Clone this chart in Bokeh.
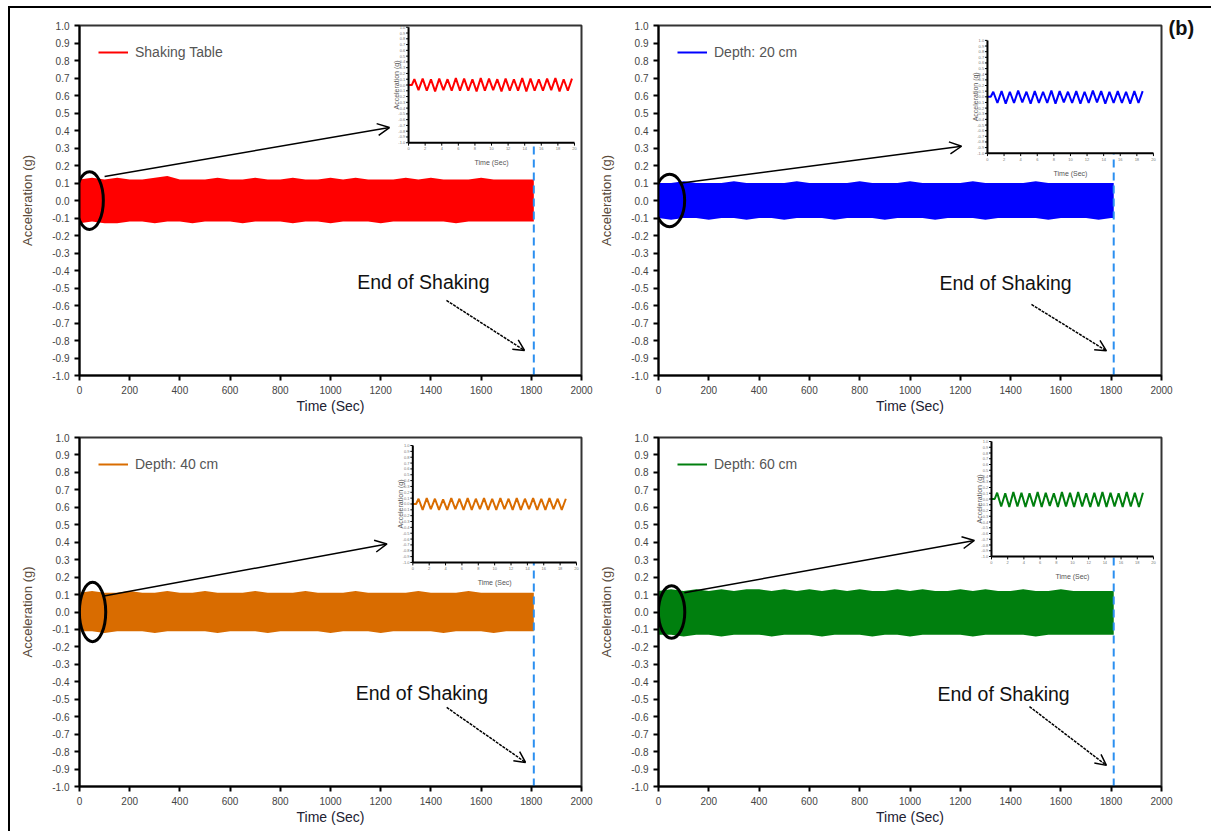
from bokeh.plotting import figure
from bokeh.models import (Range1d, Legend, LegendItem, Arrow, OpenHead, Label,
                          FixedTicker, NumeralTickFormatter, LinearAxis)
from bokeh.layouts import gridplot
from bokeh.embed import file_html
from bokeh.resources import INLINE
from bokeh.core.properties import value

FONT = "Liberation Sans"

# ---------------- data ----------------
series_names = ["Shaking Table", "Depth: 20 cm", "Depth: 40 cm", "Depth: 60 cm"]
series_colors = ["#FF0000", "#0000FF", "#D96C00", "#007F0E"]
panel_tag = "(b)"

# envelope of the dense acceleration record
env_time = [0, 50, 100, 150, 200, 250, 300, 350, 400, 450, 500, 550, 600, 650,
            700, 750, 800, 850, 900, 950, 1000, 1050, 1100, 1150, 1200, 1250,
            1300, 1350, 1400, 1450, 1500, 1550, 1600, 1650, 1700, 1750, 1800, 1810]

upper_table = [0.12, 0.13, 0.12, 0.13, 0.12, 0.12, 0.13, 0.14, 0.12, 0.12,
               0.12, 0.13, 0.12, 0.12, 0.13, 0.12, 0.12, 0.13, 0.12, 0.12,
               0.13, 0.12, 0.13, 0.12, 0.12, 0.12, 0.13, 0.12, 0.13, 0.12,
               0.12, 0.12, 0.13, 0.12, 0.12, 0.12, 0.12, 0.12]
lower_table = [-0.13, -0.12, -0.13, -0.13, -0.12, -0.12, -0.13, -0.12, -0.12, -0.13,
               -0.12, -0.12, -0.12, -0.13, -0.12, -0.12, -0.12, -0.13, -0.12, -0.12,
               -0.13, -0.12, -0.12, -0.12, -0.13, -0.12, -0.12, -0.12, -0.12, -0.12,
               -0.13, -0.12, -0.12, -0.12, -0.12, -0.12, -0.12, -0.12]

upper_20cm = [0.10, 0.10, 0.11, 0.10, 0.10, 0.10, 0.11, 0.10, 0.10, 0.10,
              0.10, 0.11, 0.10, 0.10, 0.10, 0.10, 0.11, 0.10, 0.10, 0.10,
              0.11, 0.10, 0.10, 0.10, 0.10, 0.11, 0.10, 0.10, 0.10, 0.10,
              0.11, 0.10, 0.10, 0.10, 0.10, 0.10, 0.10, 0.10]
lower_20cm = [-0.10, -0.11, -0.10, -0.10, -0.11, -0.10, -0.10, -0.11, -0.10, -0.10,
              -0.11, -0.10, -0.10, -0.10, -0.11, -0.10, -0.10, -0.10, -0.11, -0.10,
              -0.10, -0.10, -0.11, -0.10, -0.10, -0.10, -0.11, -0.10, -0.10, -0.10,
              -0.10, -0.11, -0.10, -0.10, -0.10, -0.11, -0.10, -0.10]

upper_40cm = [0.11, 0.12, 0.11, 0.11, 0.12, 0.11, 0.11, 0.12, 0.11, 0.11,
              0.12, 0.11, 0.11, 0.11, 0.12, 0.11, 0.11, 0.11, 0.12, 0.11,
              0.11, 0.11, 0.12, 0.11, 0.11, 0.11, 0.11, 0.12, 0.11, 0.11,
              0.11, 0.12, 0.11, 0.11, 0.11, 0.11, 0.11, 0.11]
lower_40cm = [-0.11, -0.11, -0.12, -0.11, -0.11, -0.11, -0.12, -0.11, -0.11, -0.11,
              -0.11, -0.12, -0.11, -0.11, -0.11, -0.12, -0.11, -0.11, -0.11, -0.11,
              -0.12, -0.11, -0.11, -0.11, -0.12, -0.11, -0.11, -0.11, -0.11, -0.12,
              -0.11, -0.11, -0.11, -0.12, -0.11, -0.11, -0.11, -0.11]

upper_60cm = [0.12, 0.13, 0.12, 0.13, 0.12, 0.13, 0.12, 0.13, 0.13, 0.12,
              0.13, 0.12, 0.13, 0.12, 0.13, 0.12, 0.13, 0.12, 0.12, 0.13,
              0.12, 0.13, 0.12, 0.12, 0.13, 0.12, 0.13, 0.12, 0.12, 0.13,
              0.12, 0.12, 0.13, 0.12, 0.12, 0.12, 0.12, 0.12]
lower_60cm = [-0.13, -0.13, -0.14, -0.13, -0.13, -0.14, -0.13, -0.13, -0.13, -0.14,
              -0.13, -0.13, -0.13, -0.14, -0.13, -0.13, -0.13, -0.14, -0.13, -0.13,
              -0.14, -0.13, -0.13, -0.13, -0.13, -0.14, -0.13, -0.13, -0.13, -0.13,
              -0.14, -0.13, -0.13, -0.13, -0.13, -0.13, -0.13, -0.13]

# zoomed inset record (first ~20 s)
inset_time = [0, 0.4, 0.7, 1.2, 1.7, 2.2, 2.7, 3.2, 3.7, 4.2, 4.7, 5.2, 5.7, 6.2,
              6.7, 7.2, 7.7, 8.2, 8.7, 9.2, 9.7, 10.2, 10.7, 11.2, 11.7, 12.2,
              12.7, 13.2, 13.7, 14.2, 14.7, 15.2, 15.7, 16.2, 16.7, 17.2, 17.7,
              18.2, 18.7, 19.2, 19.7]
inset_table = [0.0, 0.0,
               0.10, -0.09, 0.11, -0.10, 0.10, -0.11, 0.11, -0.09, 0.10, -0.10,
               0.12, -0.10, 0.11, -0.10, 0.10, -0.11, 0.12, -0.10, 0.11, -0.09,
               0.10, -0.11, 0.11, -0.10, 0.10, -0.10, 0.12, -0.11, 0.11, -0.10,
               0.10, -0.10, 0.11, -0.09, 0.12, -0.11, 0.10, -0.10, 0.11]
inset_20cm = [0.0, 0.0,
              0.09, -0.11, 0.10, -0.12, 0.09, -0.11, 0.11, -0.10, 0.09, -0.12,
              0.10, -0.11, 0.09, -0.11, 0.11, -0.12, 0.10, -0.10, 0.09, -0.11,
              0.10, -0.12, 0.09, -0.11, 0.11, -0.10, 0.10, -0.12, 0.09, -0.11,
              0.10, -0.11, 0.09, -0.12, 0.10, -0.11, 0.10]
inset_40cm = [0.0, 0.0,
              0.09, -0.10, 0.10, -0.09, 0.09, -0.10, 0.08, -0.10, 0.10, -0.09,
              0.09, -0.10, 0.10, -0.10, 0.09, -0.09, 0.10, -0.10, 0.09, -0.10,
              0.10, -0.09, 0.09, -0.10, 0.10, -0.10, 0.09, -0.09, 0.10, -0.10,
              0.09, -0.10, 0.10, -0.09, 0.09, -0.10, 0.09]
inset_60cm = [0.0, 0.0,
              0.11, -0.13, 0.10, -0.14, 0.12, -0.13, 0.11, -0.14, 0.10, -0.13,
              0.12, -0.14, 0.11, -0.12, 0.10, -0.14, 0.12, -0.13, 0.11, -0.14,
              0.12, -0.13, 0.10, -0.14, 0.11, -0.13, 0.12, -0.14, 0.11, -0.13,
              0.10, -0.14, 0.12, -0.13, 0.11, -0.14, 0.11]

uppers = [upper_table, upper_20cm, upper_40cm, upper_60cm]
lowers = [lower_table, lower_20cm, lower_40cm, lower_60cm]
insets = [inset_table, inset_20cm, inset_40cm, inset_60cm]

x_ticks = [0, 200, 400, 600, 800, 1000, 1200, 1400, 1600, 1800, 2000]
y_ticks = [-1.0, -0.9, -0.8, -0.7, -0.6, -0.5, -0.4, -0.3, -0.2, -0.1, 0.0,
           0.1, 0.2, 0.3, 0.4, 0.5, 0.6, 0.7, 0.8, 0.9, 1.0]
inset_x_ticks = [0, 2, 4, 6, 8, 10, 12, 14, 16, 18, 20]
inset_x_labels = ["0", "2", "4", "6", "8", "10", "12", "14", "16", "18", "20"]
inset_y_labels = ["%.1f" % v for v in y_ticks]

# ---------------- layout constants ----------------
# (min_border_left, min_border_right, min_border_top, min_border_bottom, width, height)
geom = [
    (69, 14, 17, 45, 585, 412),
    (63, 50, 17, 45, 616, 412),
    (69, 14, 17, 45, 585, 411),
    (63, 50, 17, 45, 616, 411),
]
inset_targets = [(1311, 1972, 0.33, 0.99), (1308, 1968, 0.27, 0.915),
                 (1328, 1980, 0.284, 0.954), (1324, 1968, 0.318, 0.977)]
ellipse_geom = [(40, 0.0, 110, 0.33), (44, 0.0, 120, 0.30),
                (52, 0.0, 105, 0.34), (52, 0.0, 105, 0.30)]
zoom_arrows = [(100, 0.137, 1235, 0.417), (91, 0.10, 1205, 0.31),
               (92, 0.09, 1225, 0.39), (103, 0.11, 1256, 0.41)]
end_text_pos = [(1370, -0.463), (1380, -0.47), (1364, -0.467), (1372, -0.47)]
end_arrows = [(1462, -0.571, 1773, -0.857), (1483, -0.594, 1781, -0.859),
              (1463, -0.547, 1777, -0.862), (1475, -0.542, 1781, -0.879)]

DASH_COLOR = "#2B8FF0"


def make_panel(i):
    bl, br, bt, bb, w, h = geom[i]
    color = series_colors[i]
    p = figure(width=w, height=h, x_range=Range1d(0, 2000), y_range=Range1d(-1, 1),
               output_backend="svg", toolbar_location=None,
               min_border_left=bl, min_border_right=br,
               min_border_top=bt, min_border_bottom=bb)
    p.xgrid.visible = False
    p.ygrid.visible = False
    p.outline_line_color = "#333333"
    p.outline_line_width = 2
    p.background_fill_color = "white"
    p.border_fill_color = "white"

    p.xaxis.ticker = FixedTicker(ticks=x_ticks)
    p.yaxis.ticker = FixedTicker(ticks=y_ticks)
    p.yaxis.formatter = NumeralTickFormatter(format="0.0")
    p.axis.minor_tick_line_color = None
    p.axis.major_tick_in = 0
    p.axis.major_tick_out = 5
    p.axis.major_tick_line_width = 2
    p.axis.axis_line_width = 2
    p.axis.axis_line_color = "black"
    p.axis.major_tick_line_color = "black"
    p.axis.major_label_text_font = FONT
    p.axis.major_label_text_font_size = "10px"
    p.axis.major_label_text_color = "#444444"
    p.axis.major_label_standoff = 5
    p.axis.axis_label_text_font = FONT
    p.axis.axis_label_text_font_style = "normal"
    p.xaxis.axis_label = "Time (Sec)"
    p.yaxis.axis_label = "Acceleration (g)"
    p.xaxis.axis_label_text_font_size = "14px"
    p.yaxis.axis_label_text_font_size = "13px"
    p.xaxis.axis_label_text_color = "#222233"
    p.yaxis.axis_label_text_color = "#5a4a3a"
    p.xaxis.axis_label_standoff = 1
    p.yaxis.axis_label_standoff = 14

    # dense record drawn as its envelope
    p.varea(x=env_time, y1=lowers[i], y2=uppers[i], fill_color=color)

    # end of shaking dashed line
    p.segment(x0=[env_time[-1]], y0=[-1.0], x1=[env_time[-1]],
              y1=[inset_targets[i][2]], line_color=DASH_COLOR, line_width=2,
              line_dash="8 5")

    # ellipse highlighting the start
    ex, ey, ew, eh = ellipse_geom[i]
    p.ellipse(x=[ex], y=[ey], width=[ew], height=[eh], fill_color=None,
              line_color="black", line_width=3)

    # arrow to inset
    x0, y0, x1, y1 = zoom_arrows[i]
    p.add_layout(Arrow(end=OpenHead(size=12, line_width=1.5, line_color="black"),
                       x_start=x0, y_start=y0, x_end=x1, y_end=y1,
                       line_width=1.5, line_color="black"))

    # End of shaking annotation
    tx, ty = end_text_pos[i]
    p.add_layout(Label(x=tx, y=ty, text="End of Shaking", text_font=FONT,
                       text_font_size="19.5px", text_color="#111111",
                       text_align="center", text_baseline="middle"))
    x0, y0, x1, y1 = end_arrows[i]
    p.add_layout(Arrow(end=OpenHead(size=11, line_width=1.5, line_color="black"),
                       x_start=x0, y_start=y0, x_end=x1, y_end=y1,
                       line_width=1.5, line_color="black", line_dash="3 1"))

    # inset
    ix0, ix1, iy0, iy1 = inset_targets[i]
    sub = p.subplot(x_source=Range1d(0, 20), y_source=Range1d(-1, 1),
                    x_target=Range1d(ix0, ix1), y_target=Range1d(iy0, iy1))
    inset_line = sub.line(x=inset_time, y=insets[i], line_color=color, line_width=2)
    sub.segment(x0=[0, 0], y0=[-1, -1], x1=[0, 20], y1=[1, -1],
                line_color="black", line_width=2)
    sub.segment(x0=[-0.3] * len(y_ticks), y0=y_ticks, x1=[0] * len(y_ticks), y1=y_ticks,
                line_color="black", line_width=1)
    sub.segment(x0=inset_x_ticks, y0=[-1] * len(inset_x_ticks), x1=inset_x_ticks,
                y1=[-1.05] * len(inset_x_ticks), line_color="black", line_width=1)
    sub.text(x=[-0.4] * len(y_ticks), y=y_ticks, text=inset_y_labels,
             text_font=value(FONT), text_font_size="4px", text_color="#777777",
             text_align="right", text_baseline="middle")
    sub.text(x=inset_x_ticks, y=[-1.08] * len(inset_x_ticks), text=inset_x_labels,
             text_font=value(FONT), text_font_size="4px", text_color="#777777",
             text_align="center", text_baseline="top")
    sub.text(x=[-1.5], y=[0], text=["Acceleration (g)"], angle=1.5708,
             text_font=value(FONT), text_font_size="7px", text_color="#555555",
             text_align="center", text_baseline="middle")
    sub.text(x=[10], y=[-1.35], text=["Time (Sec)"],
             text_font=value(FONT), text_font_size="7px", text_color="#555555",
             text_align="center", text_baseline="middle")

    legend = Legend(items=[LegendItem(label=series_names[i], renderers=[inset_line])],
                    location="top_left", border_line_color=None,
                    background_fill_alpha=0, label_text_font=FONT,
                    label_text_font_size="14px", label_text_color="#555555",
                    glyph_width=30, glyph_height=10, margin=19, padding=10,
                    label_standoff=7)
    p.add_layout(legend)
    return p


panels = [make_panel(i) for i in range(4)]

# panel tag "(b)" placed as a lone tick label on a bare right-hand axis
tag_axis = LinearAxis(ticker=FixedTicker(ticks=[0.985]),
                      major_label_overrides={0.985: panel_tag},
                      axis_line_color=None, major_tick_line_color=None,
                      minor_tick_line_color=None, major_tick_out=0, major_tick_in=0,
                      major_label_standoff=7, major_label_text_font=FONT,
                      major_label_text_font_size="20px",
                      major_label_text_font_style="bold",
                      major_label_text_color="#111111")
panels[1].add_layout(tag_axis, "right")

grid = gridplot([[panels[0], panels[1]], [panels[2], panels[3]]],
                toolbar_location=None)
grid.margin = (6, 0, 0, 8)
grid.styles = {"border-top": "2px solid black", "border-left": "2px solid black"}

open("out.html", "w").write(file_html(grid, INLINE))
